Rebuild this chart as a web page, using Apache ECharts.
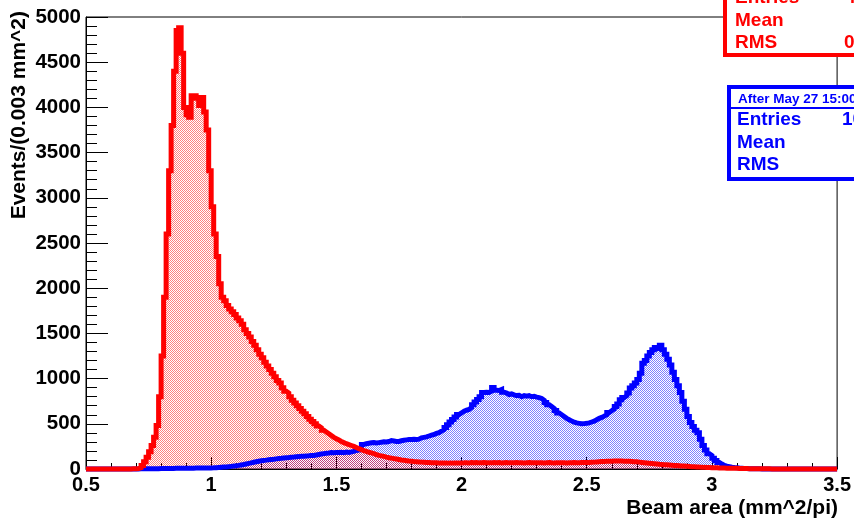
<!DOCTYPE html>
<html>
<head>
<meta charset="utf-8">
<script src="https://cdn.jsdelivr.net/npm/echarts@6/dist/echarts.min.js"></script>
<style>
  html, body { margin: 0; padding: 0; background: #fff; }
  #beamArea { width: 854px; height: 520px; }
</style>
</head>
<body>
<div id="beamArea"></div>
<script>
// histogram bins: 0.01 wide, from 0.5 to 3.5
const binStart = 0.5;
const binWidth = 0.01;
const xTicks = [0.5, 1, 1.5, 2, 2.5, 3, 3.5];

// "before" histogram (red)
const beforeCounts = [
  0,0,0,0,0,0,0,0,0,0,
  0,0,0,0,0,0,0,1,2,3,
  5,15,40,80,130,190,260,350,480,800,
  1250,1900,2600,3300,3800,4400,4850,4880,4600,4000,
  3920,3890,4130,4130,4100,4020,4110,3950,3750,3300,
  2900,2600,2350,2050,1900,1860,1810,1770,1740,1710,
  1670,1640,1600,1540,1500,1460,1410,1370,1320,1270,
  1230,1180,1140,1100,1060,1020,980,950,900,860,
  840,800,760,730,700,670,640,610,580,550,
  525,500,475,455,430,410,390,370,350,335,
  320,305,292,280,270,260,250,238,225,215,
  204,195,185,178,170,160,150,145,140,132,
  125,120,115,110,105,100,96,92,88,85,
  82,80,78,76,74,72,71,70,69,68,
  67,67,66,66,65,65,66,66,67,67,
  68,70,67,71,69,72,68,70,71,69,
  70,68,72,69,71,67,70,72,68,70,
  69,71,68,70,67,69,71,68,70,69,
  68,70,67,69,71,68,66,69,70,68,
  69,67,70,68,71,69,70,72,71,73,
  72,74,76,78,80,82,84,85,86,87,
  88,88,89,88,87,86,85,83,81,79,
  76,73,70,67,64,61,58,55,52,50,
  48,46,44,42,40,38,36,34,32,30,
  28,26,25,23,21,20,18,17,16,15,
  14,13,12,11,10,9,9,8,7,7,
  6,6,5,5,4,4,3,3,3,2,
  2,2,2,1,1,1,1,1,1,1,
  1,1,0,0,0,0,0,0,0,0,
  0,0,0,0,0,0,0,0,0,0
];

// "after May 27 15:00" histogram (blue)
const afterCounts = [
  0,0,0,0,0,0,0,0,0,0,
  0,0,0,0,0,0,0,0,0,0,
  1,2,2,3,3,3,4,4,4,5,
  5,5,6,6,6,7,7,7,8,8,
  8,9,9,10,10,10,11,11,12,12,
  13,15,17,19,21,23,26,29,32,36,
  40,45,50,56,62,68,74,80,86,92,
  95,98,102,105,108,112,115,118,122,125,
  127,130,132,135,137,140,142,145,147,150,
  150,155,160,165,170,175,178,182,180,183,
  182,185,180,188,182,190,195,205,210,215,
  272,280,285,290,292,288,292,296,300,298,
  304,315,310,305,304,312,318,322,326,326,
  328,326,330,345,350,355,365,375,381,395,
  403,420,437,460,490,520,547,575,602,620,
  640,650,658,680,710,740,768,800,846,850,
  846,860,901,870,868,880,850,840,824,830,
  820,812,815,800,812,805,812,800,805,795,
  790,780,760,735,710,690,670,647,620,600,
  580,560,545,530,518,510,505,500,502,505,
  510,520,530,545,560,570,585,600,625,645,
  665,690,720,765,790,810,840,895,920,950,
  990,1060,1170,1200,1250,1290,1320,1345,1335,1370,
  1320,1270,1215,1150,1070,990,920,846,750,660,
  580,515,470,430,400,330,260,210,170,150,
  120,95,72,55,40,32,26,20,16,13,
  10,8,6,5,4,3,3,2,2,1,
  1,1,0,0,0,0,0,0,0,0,
  0,0,0,0,0,0,0,0,0,0,
  0,0,0,0,0,0,0,0,0,0
];

// bin low edges -> step points, with closing point at the upper edge
function toSteps(counts) {
  const pts = counts.map((v, i) => [+(binStart + i * binWidth).toFixed(3), v]);
  pts.push([+(binStart + counts.length * binWidth).toFixed(3), counts[counts.length - 1]]);
  return pts;
}

// dotted fill like ROOT fill style
function dotPattern(color) {
  const c = document.createElement('canvas');
  c.width = 2; c.height = 2;
  const g = c.getContext('2d');
  g.fillStyle = color;
  g.fillRect(0, 0, 1, 1);
  g.fillRect(1, 1, 1, 1);
  return c;
}

const font = '"Liberation Sans", Arial, Helvetica, sans-serif';
const chart = echarts.init(document.getElementById('beamArea'));

const option = {
  animation: false,
  backgroundColor: '#fff',
  grid: {
    left: 86, right: 16, top: 17, bottom: 51,
    show: true, borderColor: '#000', borderWidth: 1, backgroundColor: 'transparent'
  },
  xAxis: {
    type: 'value',
    min: xTicks[0], max: xTicks[xTicks.length - 1], interval: 0.5,
    axisLine: { lineStyle: { color: '#000', width: 1 } },
    axisTick: { inside: true, length: 12, lineStyle: { color: '#000' } },
    minorTick: { show: true, splitNumber: 5, length: 6, lineStyle: { color: '#000' } },
    splitLine: { show: false },
    axisLabel: {
      color: '#000', fontWeight: 'bold', fontSize: 20, fontFamily: font, margin: 6,
      formatter: v => String(v)
    }
  },
  yAxis: {
    type: 'value',
    min: 0, max: 5000, interval: 500,
    axisLine: { show: true, lineStyle: { color: '#000', width: 1 } },
    axisTick: { show: true, inside: true, length: 22, lineStyle: { color: '#000' } },
    minorTick: { show: true, splitNumber: 5, length: 11, lineStyle: { color: '#000' } },
    splitLine: { show: false },
    axisLabel: {
      color: '#000', fontWeight: 'bold', fontSize: 20.5, fontFamily: font, margin: 5,
      formatter: v => String(v)
    }
  },
  series: [
    {
      name: 'after fill', type: 'line', step: 'end', data: toSteps(afterCounts),
      showSymbol: false, clip: false, silent: true, z: 1,
      lineStyle: { width: 0 },
      areaStyle: { color: { image: dotPattern('rgba(0,0,255,0.5)'), repeat: 'repeat' }, opacity: 1 }
    },
    {
      name: 'before fill', type: 'line', step: 'end', data: toSteps(beforeCounts),
      showSymbol: false, clip: false, silent: true, z: 2,
      lineStyle: { width: 0 },
      areaStyle: { color: { image: dotPattern('rgba(255,0,0,0.5)'), repeat: 'repeat' }, opacity: 1 }
    },
    {
      name: 'after', type: 'line', step: 'end', data: toSteps(afterCounts),
      showSymbol: false, clip: false, silent: true, z: 3,
      lineStyle: { color: '#0000ff', width: 5, join: 'miter' }
    },
    {
      name: 'before', type: 'line', step: 'end', data: toSteps(beforeCounts),
      showSymbol: false, clip: false, silent: true, z: 4,
      lineStyle: { color: '#ff0000', width: 5, join: 'miter' }
    }
  ],
  graphic: [
    // axis titles
    {
      type: 'text', x: 19, y: 11, rotation: Math.PI / 2, z: 10,
      style: { text: 'Events/(0.003 mm^2)', font: 'bold 21px ' + font, fill: '#000',
               textAlign: 'right', textVerticalAlign: 'middle' }
    },
    {
      type: 'text', x: 838, y: 508, z: 10,
      style: { text: 'Beam area (mm^2/pi)', font: 'bold 21px ' + font, fill: '#000',
               textAlign: 'right', textVerticalAlign: 'middle' }
    },
    // red stat box (cut by the canvas edge)
    {
      type: 'rect', z: 20, shape: { x: 725, y: -60, width: 200, height: 115 },
      style: { fill: '#fff', stroke: '#ff0000', lineWidth: 4 }
    },
    { type: 'text', x: 735, y: -2, z: 21, style: { text: 'Entries', font: 'bold 19px ' + font, fill: '#ff0000', textVerticalAlign: 'middle' } },
    { type: 'text', x: 735, y: 21, z: 21, style: { text: 'Mean', font: 'bold 19px ' + font, fill: '#ff0000', textVerticalAlign: 'middle' } },
    { type: 'text', x: 735, y: 43, z: 21, style: { text: 'RMS', font: 'bold 19px ' + font, fill: '#ff0000', textVerticalAlign: 'middle' } },
    { type: 'text', x: 845, y: -2, z: 21, style: { text: '4', font: 'bold 19px ' + font, fill: '#ff0000', textVerticalAlign: 'middle' } },
    { type: 'text', x: 844, y: 43, z: 21, style: { text: '0', font: 'bold 19px ' + font, fill: '#ff0000', textVerticalAlign: 'middle' } },
    // blue stat box
    {
      type: 'rect', z: 20, shape: { x: 729, y: 87, width: 200, height: 92 },
      style: { fill: '#fff', stroke: '#0000ff', lineWidth: 4 }
    },
    {
      type: 'line', z: 21, shape: { x1: 731, y1: 108, x2: 860, y2: 108 },
      style: { stroke: '#0000ff', lineWidth: 2 }
    },
    { type: 'text', x: 738, y: 99, z: 21, style: { text: 'After May 27 15:00', font: 'bold 13.5px ' + font, fill: '#0000ff', textVerticalAlign: 'middle' } },
    { type: 'text', x: 737, y: 120, z: 21, style: { text: 'Entries', font: 'bold 19px ' + font, fill: '#0000ff', textVerticalAlign: 'middle' } },
    { type: 'text', x: 737, y: 143, z: 21, style: { text: 'Mean', font: 'bold 19px ' + font, fill: '#0000ff', textVerticalAlign: 'middle' } },
    { type: 'text', x: 737, y: 165, z: 21, style: { text: 'RMS', font: 'bold 19px ' + font, fill: '#0000ff', textVerticalAlign: 'middle' } },
    { type: 'text', x: 842, y: 120, z: 21, style: { text: '10', font: 'bold 19px ' + font, fill: '#0000ff', textVerticalAlign: 'middle' } }
  ]
};
chart.setOption(option);
</script>
</body>
</html>
